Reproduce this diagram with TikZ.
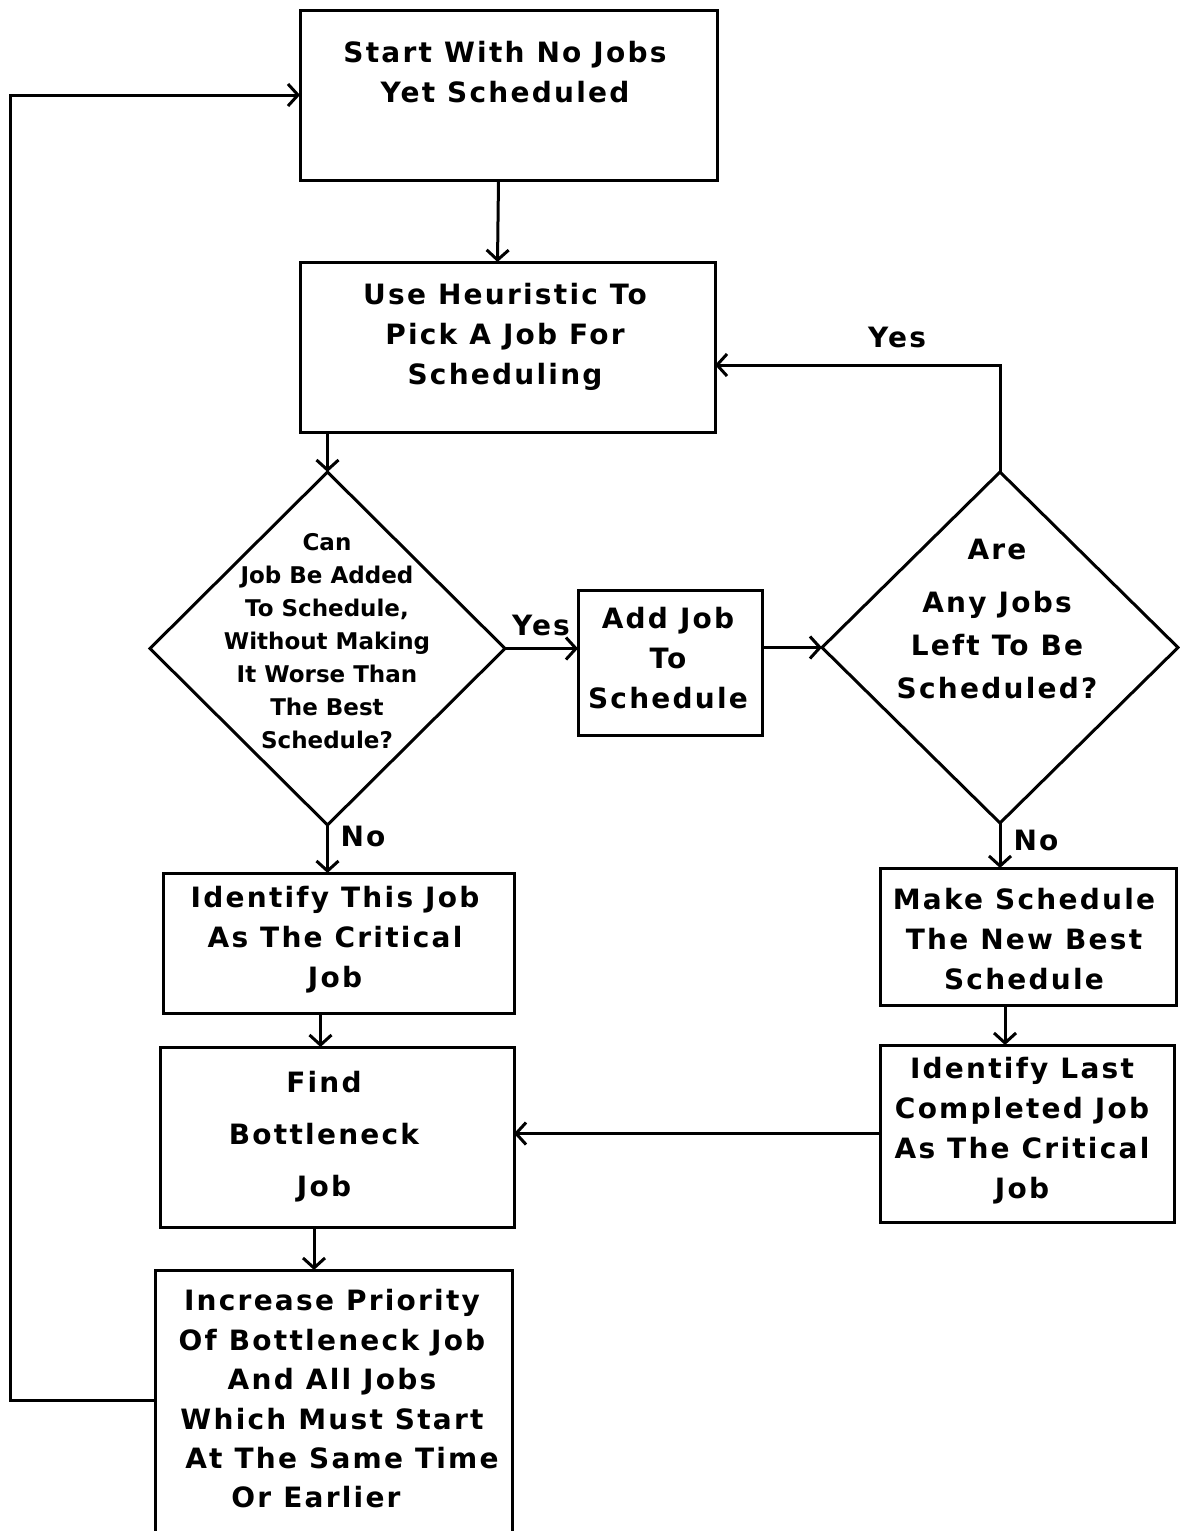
\documentclass[tikz,border=0pt]{standalone}
\usepackage{fontspec}
\newfontfamily\flowfont{DejaVu Sans}[LetterSpace=8]
\newfontfamily\tightfont{DejaVu Sans}
\usetikzlibrary{shapes.geometric,fit,arrows.meta}
\tikzset{
  box/.style={draw, line width=1.5pt, inner sep=0pt, outer sep=0pt},
  decision/.style={diamond, draw, line width=1.5pt, inner sep=0pt, outer sep=0pt, aspect=1},
  txt/.style={font=\flowfont\bfseries\fontsize{14}{20}\selectfont, align=center, inner sep=0pt},
  qtxt/.style={font=\tightfont\bfseries\fontsize{11.5}{16.5}\selectfont, align=center, inner sep=0pt},
  flow/.style={line width=1.5pt, -{Straight Barb[length=5pt,width=11pt,line width=1.5pt]}},
}
\begin{document}
\begin{tikzpicture}[x=0.5pt, y=-0.5pt]
\useasboundingbox (0,0) rectangle (1179,1531);

% process boxes
\node[box, fit={(300,10) (717,180)}] (start) {};
\node[box, fit={(300,262) (715,432)}] (heu) {};
\node[box, fit={(578,590) (762,735)}] (add) {};
\node[box, fit={(163,873) (514,1013)}] (crit) {};
\node[box, fit={(880,868) (1176,1005)}] (best) {};
\node[box, fit={(160,1047) (514,1227)}] (find) {};
\node[box, fit={(880,1045) (1174,1222)}] (last) {};
% last box runs off the bottom edge: only three sides show
\node[inner sep=0pt, outer sep=0pt, fit={(155,1270) (512,1531)}] (inc) {};
\draw[line width=1.5pt] (inc.south west) |- (inc.north east) -- (inc.south east);

% decisions
\node[decision, minimum width=177.5pt, minimum height=176.5pt] (d1) at (327.5,648.5) {};
\node[decision, minimum width=178pt, minimum height=175.5pt] (d2) at (1000,647.5) {};

% texts
\node[txt] (tstart) at (505,72) {Start With No Jobs\\Yet Scheduled};
\node[txt] (theu) at (505,337) {Use Heuristic To\\Pick A Job For\\Scheduling};
\node[qtxt] (td1) at (327,641) {Can\\Job Be Added\\To Schedule,\\Without Making\\It Worse Than\\The Best\\Schedule?};
\node[txt] (tadd) at (668,658) {Add Job\\To\\Schedule};
\node[txt, font=\flowfont\bfseries\fontsize{14}{21.5}\selectfont] (td2) at (997,619) {Are\\[5pt]Any Jobs\\Left To Be\\Scheduled?};
\node[txt] (tcrit) at (335,940) {Identify This Job\\As The Critical\\Job};
\node[txt] (tbest) at (1024,939) {Make Schedule\\The New Best\\Schedule};
\node[txt, font=\flowfont\bfseries\fontsize{14}{26}\selectfont] (tfind) at (324,1137) {Find\\Bottleneck\\Job};
\node[txt] (tlast) at (1022,1131) {Identify Last\\Completed Job\\As The Critical\\Job};
\node[txt, font=\flowfont\bfseries\fontsize{14}{19.7}\selectfont] (tinc) at (332,1399) {Increase Priority\\Of Bottleneck Job\\And All Jobs\\Which Must Start\\\hspace*{10pt}At The Same Time\\Or Earlier\hspace*{16pt}};

% branch labels
\node[txt] (yes1) at (541,625) {Yes};
\node[txt] (yes2) at (897,337) {Yes};
\node[txt] (no1) at (363,836) {No};
\node[txt] (no2) at (1036,840) {No};

% connectors
\draw[flow] ([xshift=-5pt]start.south) -- ([xshift=-5pt]heu.north);
\draw[flow] (heu.south -| d1.north) -- (d1.north);
\draw[flow] (d1.east) -- (d1.east -| add.west);
\draw[flow] (d2.west -| add.east) -- (d2.west);
\draw[flow] (d2.north) |- ([yshift=-9pt]heu.east);
\draw[flow] (d1.south) -- (d1.south |- crit.north);
\draw[flow] (d2.south) -- (d2.south |- best.north);
\draw[flow] ([xshift=-9pt]crit.south) -- ([xshift=-9pt]crit.south |- find.north);
\draw[flow] ([xshift=-11.5pt]best.south) -- ([xshift=-11.5pt]best.south |- last.north);
\draw[flow] (last.west) -- (last.west -| find.east);
\draw[flow] ([xshift=-11.5pt]find.south) -- ([xshift=-11.5pt]find.south |- inc.north);
\draw[flow] (inc.west) -- ++(-72.5pt,0) |- (start.west);
\end{tikzpicture}
\end{document}
